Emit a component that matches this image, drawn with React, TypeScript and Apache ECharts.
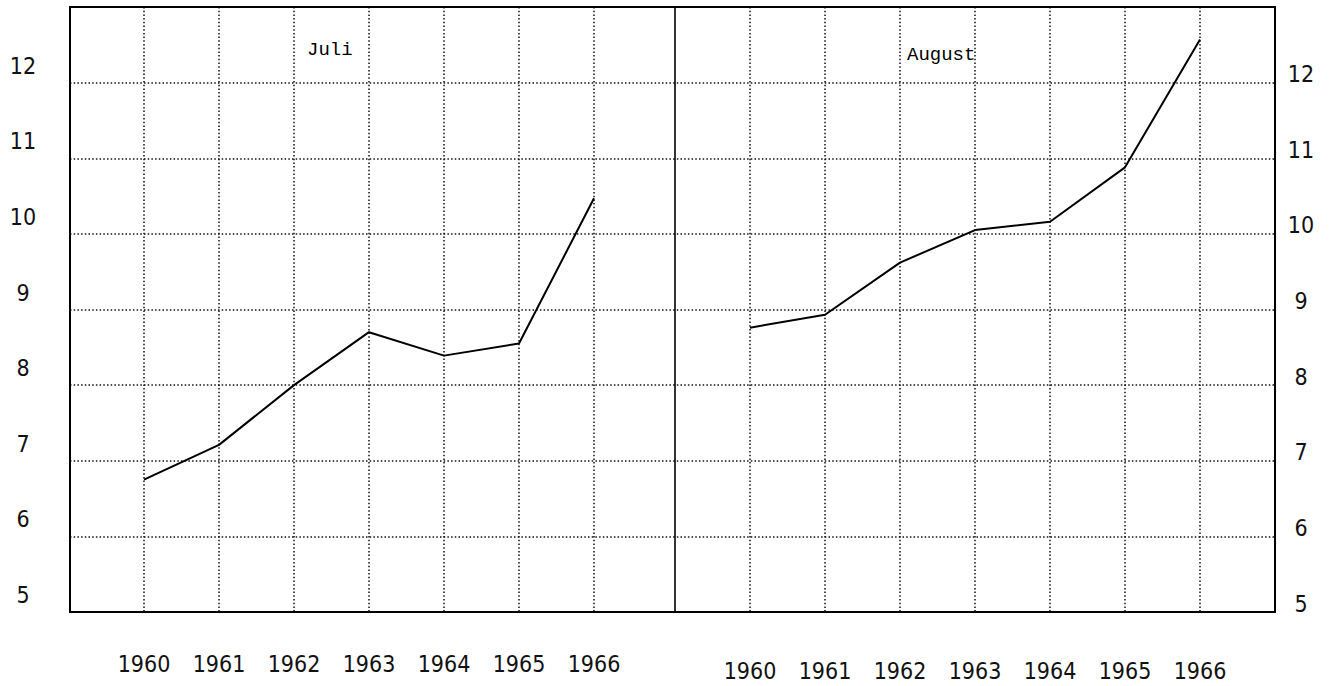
import React, { useEffect, useRef } from "react";
import * as echarts from "echarts";

const years = [1960, 1961, 1962, 1963, 1964, 1965, 1966];
const juli = [6.75, 7.21, 8.0, 8.7, 8.39, 8.55, 10.47];
const august = [8.76, 8.93, 9.62, 10.05, 10.16, 10.88, 12.57];
const yTicks = [5, 6, 7, 8, 9, 10, 11, 12];
const panelTitles = ["Juli", "August"];

const LABEL_FONT = "'Liberation Sans Narrow', 'DejaVu Sans Condensed', 'Liberation Sans', sans-serif";
const MONO_FONT = "'Liberation Mono', 'DejaVu Sans Mono', monospace";

const dotted = { color: "#111", width: 1.5, type: [1.5, 2.2] as number[] };

export default function App() {
  const ref = useRef<HTMLDivElement>(null);

  useEffect(() => {
    if (!ref.current) return;
    const chart = echarts.init(ref.current, null, { renderer: "svg" });

    // trailing newline pushes the visible digits above their grid line
    const yLabel = (v: number) => (yTicks.indexOf(v) >= 0 ? String(v) + "\n" : "");
    const xLabel = (v: number) => (years.indexOf(v) >= 0 ? String(v) : "");

    const panelX = (gridIndex: number, margin: number) => ({
      gridIndex,
      type: "value",
      min: 1959,
      max: 1967,
      interval: 1,
      axisLine: { show: false },
      axisTick: { show: false },
      splitLine: { show: true, showMinLine: false, showMaxLine: false, lineStyle: dotted },
      axisLabel: {
        formatter: xLabel,
        margin,
        color: "#111",
        fontSize: 23,
        fontFamily: LABEL_FONT,
        showMinLabel: true,
        showMaxLabel: true,
        hideOverlap: false,
      },
    });

    chart.setOption({
      animation: false,
      backgroundColor: "#fff",
      grid: [
        { left: 70, top: 7, width: 1205, height: 605, show: false },
        { left: 69, top: 7, width: 600, height: 605, show: false },
        { left: 675, top: 7, width: 600, height: 605, show: false },
      ],
      xAxis: [
        { gridIndex: 0, type: "value", min: 0, max: 1, show: false },
        panelX(1, 40),
        panelX(2, 47),
      ],
      yAxis: [
        {
          gridIndex: 0,
          type: "value",
          position: "left",
          min: 5,
          max: 13,
          interval: 1,
          axisLine: { show: false },
          axisTick: { show: false },
          splitLine: { show: true, showMinLine: false, showMaxLine: false, lineStyle: dotted },
          axisLabel: {
            formatter: yLabel,
            align: "center",
            margin: 47,
            lineHeight: 34,
            color: "#111",
            fontSize: 23,
            fontFamily: LABEL_FONT,
            showMinLabel: true,
            showMaxLabel: true,
            hideOverlap: false,
          },
        },
        {
          gridIndex: 0,
          type: "value",
          position: "right",
          min: 5,
          max: 13,
          interval: 1,
          axisLine: { show: false },
          axisTick: { show: false },
          splitLine: { show: false },
          axisLabel: {
            formatter: yLabel,
            align: "center",
            margin: 26,
            lineHeight: 17,
            color: "#111",
            fontSize: 23,
            fontFamily: LABEL_FONT,
            showMinLabel: true,
            showMaxLabel: true,
            hideOverlap: false,
          },
        },
        { gridIndex: 1, type: "value", min: 5, max: 13, show: false },
        { gridIndex: 2, type: "value", min: 5, max: 13, show: false },
      ],
      series: [
        {
          type: "line",
          xAxisIndex: 1,
          yAxisIndex: 2,
          data: years.map((y, i) => [y, juli[i]]),
          symbol: "none",
          lineStyle: { color: "#000", width: 2 },
        },
        {
          type: "line",
          xAxisIndex: 2,
          yAxisIndex: 3,
          data: years.map((y, i) => [y, august[i]]),
          symbol: "none",
          lineStyle: { color: "#000", width: 2 },
        },
      ],
      graphic: [
        {
          type: "rect",
          z: 10,
          shape: { x: 70, y: 7, width: 1205, height: 605 },
          style: { fill: "none", stroke: "#000", lineWidth: 2 },
        },
        {
          type: "line",
          z: 10,
          shape: { x1: 675, y1: 7, x2: 675, y2: 612 },
          style: { stroke: "#000", lineWidth: 1.6 },
        },
        {
          type: "text",
          x: 307,
          y: 50,
          style: {
            text: panelTitles[0],
            fontSize: 19,
            fontFamily: MONO_FONT,
            fill: "#000",
            verticalAlign: "middle",
          },
        },
        {
          type: "text",
          x: 907,
          y: 55,
          style: {
            text: panelTitles[1],
            fontSize: 19,
            fontFamily: MONO_FONT,
            fill: "#000",
            verticalAlign: "middle",
          },
        },
      ],
    });

    return () => chart.dispose();
  }, []);

  return (
    <div
      ref={ref}
      style={{ position: "fixed", left: 0, top: 0, width: 1332, height: 686, background: "#fff" }}
    />
  );
}
